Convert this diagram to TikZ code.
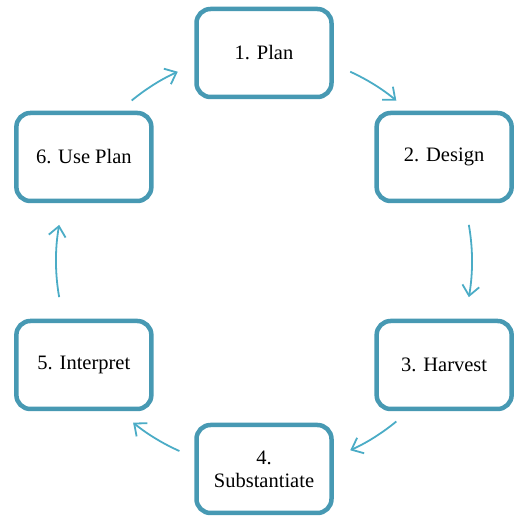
\documentclass[tikz,border=0pt]{standalone}
\usepackage{fontspec}
\setmainfont{Liberation Serif}
\usepackage{tikz}
\usetikzlibrary{arrows.meta,calc}
\usepackage{xcolor}
\definecolor{boxteal}{HTML}{4799B3}
\definecolor{arrteal}{HTML}{4BACC6}

\tikzset{
    stagebox/.style={draw=boxteal, line width=4.5pt, fill=white, rounded corners=14pt,
        minimum width=135pt, minimum height=88pt, align=center,
        font=\fontsize{20.5}{23}\selectfont},
    cyclearrow/.style={arrteal, line width=1.8pt,
        -{Straight Barb[length=10pt,width=17pt,line width=1.8pt]}}
}

\begin{document}
\begin{tikzpicture}[x=1pt,y=1pt]
                    \useasboundingbox (0,0) rectangle (514,519);
                    % Centre of the cycle
                    \coordinate (hub) at (264,258);
                    
                    % Stages on a circle
                    \node[stagebox] (plan) at ($(hub)+(90:208)$) {1. Plan};
                    \node[stagebox] (design) at ($(hub)+(30:208)$) {2. Design};
                    \node[stagebox] (harvest) at ($(hub)+(-30:208)$) {3. Harvest};
                    \node[stagebox] (subst) at ($(hub)+(-90:208)$) {4.\\Substantiate};
                    \node[stagebox] (interp) at ($(hub)+(-150:208)$) {5. Interpret};
                    \node[stagebox] (useplan) at ($(hub)+(150:208)$) {6. Use Plan};
                    
                    % Arrows between the stages (clockwise arcs)
                    \foreach \s/\e in {65.5/50.5, 10/-10, -50.5/-65.5, -114/-129, 190/170, 129.5/114.5}
                        \draw[cyclearrow] ($(hub)+(\s:208)$)
                            arc[start angle=\s, end angle=\e, radius=208];
                \end{tikzpicture}
\end{document}
